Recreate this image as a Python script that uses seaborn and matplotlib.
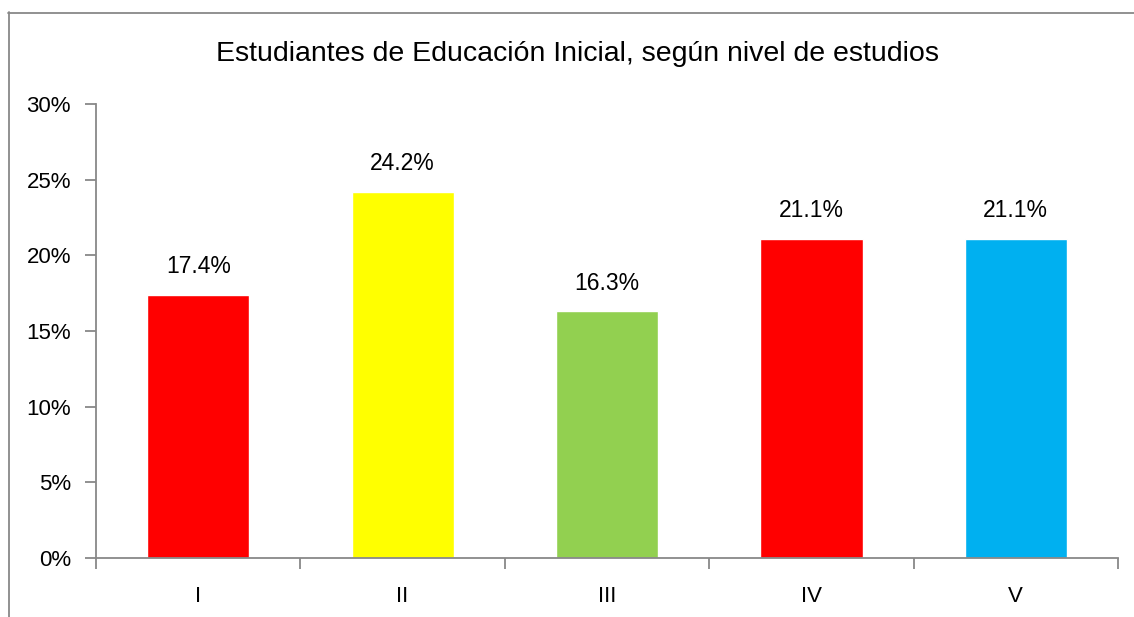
import matplotlib
matplotlib.use("Agg")
import matplotlib.pyplot as plt
import seaborn as sns
import pandas as pd
from matplotlib.lines import Line2D
from matplotlib.ticker import FixedLocator, PercentFormatter

categories = ["I", "II", "III", "IV", "V"]
values = [17.4, 24.2, 16.3, 21.1, 21.1]
colors = ["#FF0000", "#FFFF00", "#92D050", "#FF0000", "#00B0F0"]
labels = ["17.4%", "24.2%", "16.3%", "21.1%", "21.1%"]
title = "Estudiantes de Educación Inicial, según nivel de estudios"

sns.set_theme(style="white")
plt.rcParams["font.family"] = ["Liberation Sans", "DejaVu Sans"]

fig = plt.figure(figsize=(11.34, 6.17), dpi=100)
ax = fig.add_axes([96/1134, 1-558/617, (1118-96)/1134, (558-104)/617])

df = pd.DataFrame({"cat": categories, "val": values})
sns.barplot(data=df, x="cat", y="val", hue="cat", palette=colors, legend=False,
            width=0.5, ax=ax, saturation=1)

ax.set_ylim(0, 30)
ax.set_xlim(-0.5, 4.5)
ax.set_yticks([0, 5, 10, 15, 20, 25, 30])
ax.yaxis.set_major_formatter(PercentFormatter(decimals=0))
ax.set_xlabel("")
ax.set_ylabel("")

grey = "#888888"
for s in ["top", "right"]:
    ax.spines[s].set_visible(False)
for s in ["left", "bottom"]:
    ax.spines[s].set_color(grey)
    ax.spines[s].set_linewidth(1.3)

ax.tick_params(axis="y", which="major", left=True, length=8, width=1.3, color=grey,
               labelsize=16, pad=10, labelcolor="black")
ax.tick_params(axis="x", which="major", bottom=False, length=0, labelsize=16, pad=20,
               labelcolor="black")
ax.xaxis.set_minor_locator(FixedLocator([-0.5, 0.5, 1.5, 2.5, 3.5, 4.5]))
ax.tick_params(axis="x", which="minor", bottom=True, length=8, width=1.3, color=grey)

for i, (v, lab) in enumerate(zip(values, labels)):
    ax.annotate(lab, (i, v), xytext=(0, 12), textcoords="offset points",
                ha="center", va="bottom", fontsize=16.5, color="black")

fig.text(0.5 + 10.5/1134, 1-54/617, title, ha="center", va="center", fontsize=20.5, color="black")

# chart border (left and top visible)
fig.add_artist(Line2D([8.5/1134, 8.5/1134], [0, 1-12/617], transform=fig.transFigure,
                      color=grey, linewidth=1.3))
fig.add_artist(Line2D([8/1134, 1], [1-12.5/617, 1-12.5/617], transform=fig.transFigure,
                      color=grey, linewidth=1.3))

fig.savefig("out.png", dpi=100)
